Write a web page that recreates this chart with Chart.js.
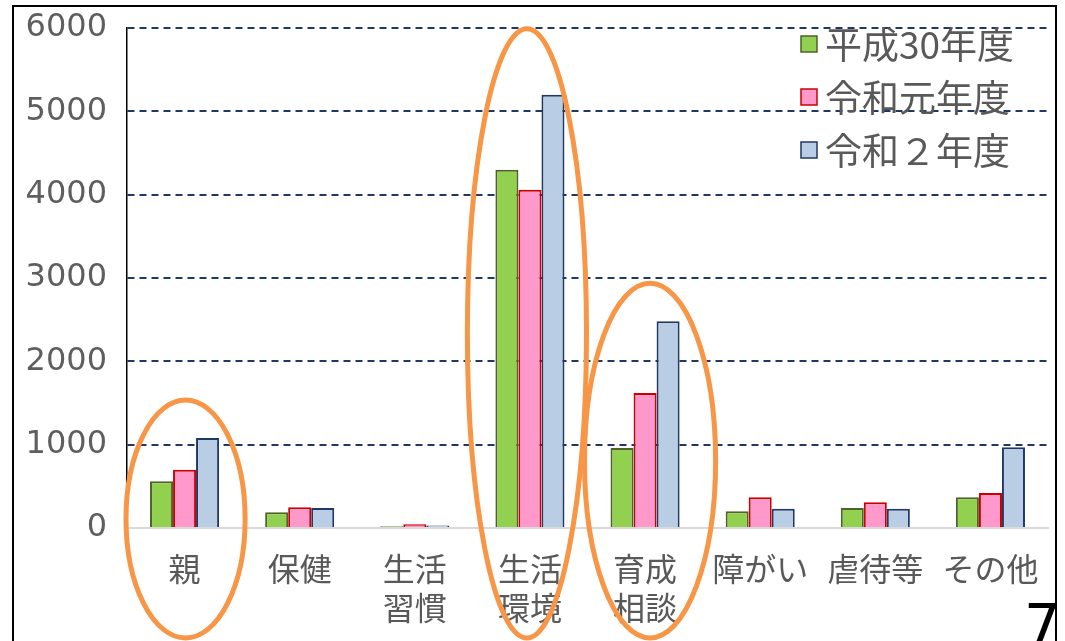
<!DOCTYPE html>
<html>
<head>
<meta charset="utf-8">
<script src="https://cdn.jsdelivr.net/npm/chart.js@4.4.0/dist/chart.umd.min.js"></script>
<style>
    body { margin: 0; background: #fff; }
    #wrap { position: relative; width: 1065px; height: 641px; overflow: hidden; }
    #frame { position: absolute; left: 12px; top: 5px; width: 1045px; height: 640px; border: 2px solid #000; box-sizing: border-box; pointer-events: none; }
    #page { position: absolute; left: 1024px; top: 592px; font: 58px "DejaVu Sans", sans-serif; color: #000; }
</style>
</head>
<body>
<div id="wrap">
    <canvas id="chart" width="1065" height="641"></canvas>
    <div id="frame"></div>
    <div id="page">7</div>
</div>
<script>
// データ
const categories = ['親', '保健', ['生活', '習慣'], ['生活', '環境'], ['育成', '相談'], '障がい', '虐待等', 'その他'];
const seriesNames = ['平成30年度', '令和元年度', '令和２年度'];
const h30 = [560, 190, 20, 4300, 960, 200, 240, 370];
const r1 = [700, 250, 45, 4060, 1620, 370, 310, 420];
const r2 = [1080, 240, 30, 5200, 2480, 230, 230, 970];
const yTicks = [0, 1000, 2000, 3000, 4000, 5000, 6000];
// 丸で囲むカテゴリ
const circled = [0, 3, 4];

const fillColors = ['#92D050', '#FF99CC', '#B9CDE5'];
const lineColors = ['#4F6228', '#CC0000', '#1F3864'];
const labelFont = '"Noto Sans CJK JP", "Noto Sans", sans-serif';

// 凡例（グラフ内右上）
const legendPlugin = {
    id: 'insideLegend',
    afterDraw(chart) {
        const ctx = chart.ctx;
        ctx.save();
        chart.data.datasets.forEach(function(ds, i) {
            const x = 801, y = 44 + i * 53;
            ctx.fillStyle = ds.backgroundColor;
            ctx.strokeStyle = ds.borderColor;
            ctx.lineWidth = 1.5;
            ctx.fillRect(x, y - 8, 16, 16);
            ctx.strokeRect(x, y - 8, 16, 16);
            ctx.fillStyle = '#595959';
            ctx.font = '37px ' + labelFont;
            ctx.textBaseline = 'middle';
            ctx.fillText(ds.label, x + 24, y + 1);
        });
        ctx.restore();
    }
};

// オレンジの楕円
const ovalPlugin = {
    id: 'ovals',
    afterDraw(chart) {
        const ctx = chart.ctx;
        const xs = chart.scales.x, ys = chart.scales.y;
        const half = (xs.getPixelForValue(1) - xs.getPixelForValue(0)) / 2;
        ctx.save();
        ctx.strokeStyle = '#F79646';
        ctx.lineWidth = 5;
        circled.forEach(function(i) {
            const top = Math.max(h30[i], r1[i], r2[i]);
            const yTop = ys.getPixelForValue(top) - (i === 3 ? 66 : 38);
            const yBot = 638;
            const dx = i === 4 ? 5 : (i === 3 ? -3 : 1);
            const rx = half + (i === 4 ? 8 : 2);
            ctx.beginPath();
            ctx.ellipse(xs.getPixelForValue(i) + dx, (yTop + yBot) / 2, rx, (yBot - yTop) / 2, 0, 0, Math.PI * 2);
            ctx.stroke();
        });
        ctx.restore();
    }
};

new Chart(document.getElementById('chart'), {
    type: 'bar',
    data: {
        labels: categories,
        datasets: [h30, r1, r2].map(function(vals, i) {
            return {
                label: seriesNames[i],
                data: vals,
                backgroundColor: fillColors[i],
                borderColor: lineColors[i],
                borderWidth: 2,
                categoryPercentage: 0.6,
                barPercentage: 1.0
            };
        })
    },
    options: {
        responsive: false,
        animation: false,
        layout: { padding: { top: 28, right: 17, left: 0, bottom: 0 } },
        plugins: { legend: { display: false }, tooltip: { enabled: false } },
        scales: {
            x: {
                grid: { display: false },
                border: { color: '#D9D9D9', width: 2 },
                ticks: {
                    color: '#595959',
                    font: { family: labelFont, size: 32 },
                    padding: 14,
                    maxRotation: 0,
                    autoSkip: false
                },
                afterFit(scale) { scale.height = 113; }
            },
            y: {
                min: 0,
                max: 6000,
                afterBuildTicks(scale) { scale.ticks = yTicks.map(v => ({ value: v })); },
                grid: {
                    color: ctx => ctx.tick && ctx.tick.value === 0 ? 'rgba(0,0,0,0)' : '#1F3864',
                    lineWidth: 2,
                    drawTicks: false
                },
                border: { color: '#000', width: 1.5, dash: [7, 5] },
                ticks: {
                    color: '#5E5E5E',
                    font: { family: '"DejaVu Sans", sans-serif', size: 32, lineHeight: 0.5 },
                    padding: 20,
                    callback: v => String(v)
                },
                afterFit(scale) { scale.width = 127; }
            }
        }
    },
    plugins: [ovalPlugin, legendPlugin]
});
</script>
</body>
</html>
